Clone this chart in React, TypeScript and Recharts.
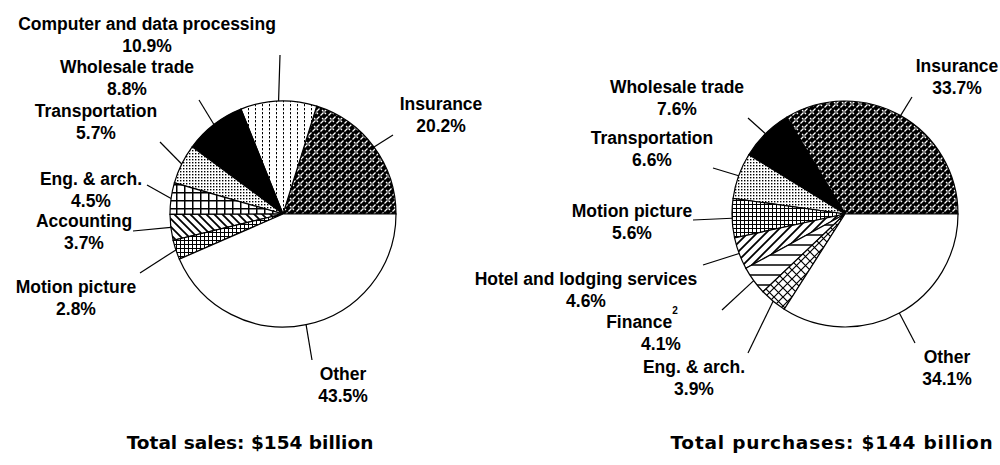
import { PieChart, Pie, Cell } from "recharts";

const leftNames = [
  "Insurance",
  "Computer and data processing",
  "Wholesale trade",
  "Transportation",
  "Eng. & arch.",
  "Accounting",
  "Motion picture",
  "Other",
];
const leftValues = [20.2, 10.9, 8.8, 5.7, 4.5, 3.7, 2.8, 43.5];

const rightNames = [
  "Insurance",
  "Wholesale trade",
  "Transportation",
  "Motion picture",
  "Hotel and lodging services",
  "Finance",
  "Eng. & arch.",
  "Other",
];
const rightValues = [33.7, 7.6, 6.6, 5.6, 4.6, 4.1, 3.9, 34.1];
const rightNotes = ["", "", "", "", "", "2", "", ""];

const titles = ["Total sales: $154 billion", "Total purchases: $144 billion"];

// fills (hatch patterns defined in <defs>)
const leftFills = [
  "url(#weave)",
  "url(#vdots)",
  "#000",
  "url(#stipple)",
  "url(#grid)",
  "url(#diagBack)",
  "url(#fineGrid)",
  "#fff",
];
const rightFills = [
  "url(#weave)",
  "#000",
  "url(#stipple)",
  "url(#fineGrid)",
  "url(#diagFwd)",
  "url(#hStripes)",
  "url(#crossHatch)",
  "#fff",
];

// label placement relative to pie centre: text centre/baseline, leader end
type Spot = { dx: number; dy: number; lx: number; ly: number; pdx?: number };
const leftSpots: Spot[] = [
  { dx: 158, dy: -104, lx: 110, ly: -79 },
  { dx: -136, dy: -184, lx: -3, ly: -159 },
  { dx: -156, dy: -141, lx: -84, ly: -114 },
  { dx: -187, dy: -97, lx: -123, ly: -72 },
  { dx: -192, dy: -29, lx: -136, ly: -29 },
  { dx: -199, dy: 13, lx: -150, ly: 17 },
  { dx: -207, dy: 79, lx: -143, ly: 59 },
  { dx: 60, dy: 166, lx: 29, ly: 146 },
];
const rightSpots: Spot[] = [
  { dx: 112, dy: -142, lx: 67, ly: -117 },
  { dx: -168, dy: -121, lx: -97, ly: -96 },
  { dx: -193, dy: -70, lx: -132, ly: -46 },
  { dx: -213, dy: 3, lx: -152, ly: 6 },
  { dx: -259, dy: 71, lx: -142, ly: 51 },
  { dx: -203, dy: 114, lx: -123, ly: 96, pdx: -184 },
  { dx: -151, dy: 159, lx: -97, ly: 139 },
  { dx: 102, dy: 149, lx: 70, ly: 129 },
];

const RADIAN = Math.PI / 180;
const labelFont = "'Liberation Sans', Arial, sans-serif";
const titleFont = "'DejaVu Sans', Verdana, sans-serif";

function makeLabel(names: string[], spots: Spot[], notes?: string[]) {
  return (props: any) => {
    const { cx, cy, midAngle, outerRadius, index, value } = props;
    const s = spots[index];
    const x0 = cx + outerRadius * Math.cos(-midAngle * RADIAN);
    const y0 = cy + outerRadius * Math.sin(-midAngle * RADIAN);
    const note = notes ? notes[index] : "";
    return (
      <g key={`lbl-${index}`}>
        <line x1={x0} y1={y0} x2={cx + s.lx} y2={cy + s.ly} stroke="#000" strokeWidth={1.2} />
        <text
          x={cx + s.dx}
          y={cy + s.dy}
          textAnchor="middle"
          fontFamily={labelFont}
          fontWeight="bold"
          fontSize={17.5}
          fill="#000"
        >
          {names[index]}
          {note ? (
            <tspan dy={-14} fontSize={10}>
              {note}
            </tspan>
          ) : null}
        </text>
        <text
          x={cx + (s.pdx ?? s.dx)}
          y={cy + s.dy + 21.5}
          textAnchor="middle"
          fontFamily={labelFont}
          fontWeight="bold"
          fontSize={17.5}
          fill="#000"
        >
          {`${Number(value).toFixed(1)}%`}
        </text>
      </g>
    );
  };
}

const leftData = leftNames.map((name, i) => ({ name, value: leftValues[i] }));
const rightData = rightNames.map((name, i) => ({ name, value: rightValues[i] }));

export default function App() {
  return (
    <div style={{ position: "absolute", left: 0, top: 0, width: 1000, height: 465, background: "#fff" }}>
      <PieChart width={1000} height={465}>
        <defs>
          <pattern id="weave" width="8" height="8" patternUnits="userSpaceOnUse">
            <rect width="8" height="8" fill="#000" />
            <path d="M0.5,3.5 L3.5,0.5 M4.5,7.5 L7.5,4.5 M4.5,0.5 L6,2 M2,6 L3.5,7.5" stroke="#fff" strokeWidth="1.2" />
          </pattern>
          <pattern id="vdots" width="7" height="4" patternUnits="userSpaceOnUse">
            <rect width="7" height="4" fill="#fff" />
            <line x1="3.5" y1="0" x2="3.5" y2="2.3" stroke="#000" strokeWidth="1" />
          </pattern>
          <pattern id="stipple" width="3" height="3" patternUnits="userSpaceOnUse">
            <rect width="3" height="3" fill="#fff" />
            <rect width="1.4" height="1.4" fill="#000" />
          </pattern>
          <pattern id="grid" width="8" height="8" patternUnits="userSpaceOnUse">
            <rect width="8" height="8" fill="#fff" />
            <path d="M0,0.75 H8 M0.75,0 V8" stroke="#000" strokeWidth="1.5" />
          </pattern>
          <pattern id="fineGrid" width="4" height="4" patternUnits="userSpaceOnUse">
            <rect width="4" height="4" fill="#fff" />
            <path d="M0,0.5 H4 M0.5,0 V4" stroke="#000" strokeWidth="1" />
          </pattern>
          <pattern id="diagBack" width="8" height="8" patternUnits="userSpaceOnUse">
            <rect width="8" height="8" fill="#fff" />
            <path d="M0,0 L8,8 M-2,6 L2,10 M6,-2 L10,2" stroke="#000" strokeWidth="1.8" />
          </pattern>
          <pattern id="diagFwd" width="9" height="9" patternUnits="userSpaceOnUse">
            <rect width="9" height="9" fill="#fff" />
            <path d="M0,9 L9,0 M-2,2 L2,-2 M7,11 L11,7" stroke="#000" strokeWidth="1.8" />
          </pattern>
          <pattern id="hStripes" width="10" height="10" patternUnits="userSpaceOnUse">
            <rect width="10" height="10" fill="#fff" />
            <line x1="0" y1="5" x2="10" y2="5" stroke="#000" strokeWidth="1.5" />
          </pattern>
          <pattern id="crossHatch" width="9" height="9" patternUnits="userSpaceOnUse">
            <rect width="9" height="9" fill="#fff" />
            <path d="M0,0 L9,9 M0,9 L9,0" stroke="#000" strokeWidth="1.2" />
          </pattern>
        </defs>
        <Pie
          data={leftData}
          dataKey="value"
          nameKey="name"
          cx={278}
          cy={209}
          outerRadius={113}
          startAngle={0}
          endAngle={360}
          stroke="#000"
          strokeWidth={1.2}
          labelLine={false}
          label={makeLabel(leftNames, leftSpots)}
          isAnimationActive={false}
        >
          {leftData.map((d, i) => (
            <Cell key={d.name} fill={leftFills[i]} />
          ))}
        </Pie>
        <Pie
          data={rightData}
          dataKey="value"
          nameKey="name"
          cx={840}
          cy={209}
          outerRadius={113}
          startAngle={0}
          endAngle={360}
          stroke="#000"
          strokeWidth={1.2}
          labelLine={false}
          label={makeLabel(rightNames, rightSpots, rightNotes)}
          isAnimationActive={false}
        >
          {rightData.map((d, i) => (
            <Cell key={d.name} fill={rightFills[i]} />
          ))}
        </Pie>
      </PieChart>
      <svg
        width={1000}
        height={465}
        style={{ position: "absolute", left: 0, top: 0, pointerEvents: "none" }}
      >
        <text x={250} y={449} textAnchor="middle" fontFamily={titleFont} fontWeight="bold" fontSize={18.5}>
          {titles[0]}
        </text>
        <text x={832} y={449} textAnchor="middle" fontFamily={titleFont} fontWeight="bold" fontSize={18.5} letterSpacing={0.8}>
          {titles[1]}
        </text>
      </svg>
    </div>
  );
}
